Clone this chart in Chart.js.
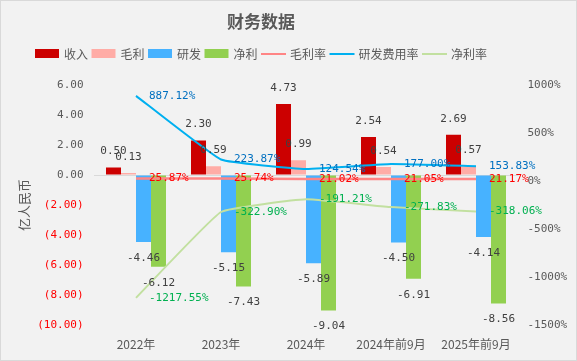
<!DOCTYPE html>
<html lang="zh">
<head>
<meta charset="UTF-8">
<title>财务数据</title>
<script src="https://cdn.jsdelivr.net/npm/chart.js"></script>
<style>
  html, body { margin: 0; padding: 0; background: #f2f2f2; }
  #wrap { width: 577px; height: 361px; }
</style>
</head>
<body>
<div id="wrap"><canvas id="finChart" width="577" height="361"></canvas></div>
<script>
// data
var categories = ['2022年', '2023年', '2024年', '2024年前9月', '2025年前9月'];
var revenue = [0.50, 2.30, 4.73, 2.54, 2.69];
var grossProfit = [0.13, 0.59, 0.99, 0.54, 0.57];
var rdExpense = [-4.46, -5.15, -5.89, -4.50, -4.14];
var netProfit = [-6.12, -7.43, -9.04, -6.91, -8.56];
var grossMargin = [25.87, 25.74, 21.02, 21.05, 21.17];
var rdRatio = [887.12, 223.87, 124.54, 177.00, 153.83];
var netMargin = [-1217.55, -322.90, -191.21, -271.83, -318.06];

var numFont = '11px "DejaVu Sans Mono", monospace';
var cjkFont = '"Noto Sans CJK SC", sans-serif';
var grey = '#595959';

// background + frame
var bgPlugin = {
    id: 'bg',
    beforeDraw: function (chart) {
        var c = chart.ctx;
        c.save();
        c.fillStyle = '#f2f2f2';
        c.fillRect(0, 0, chart.width, chart.height);
        c.strokeStyle = '#d9d9d9';
        c.lineWidth = 1;
        c.strokeRect(0.5, 0.5, chart.width - 1, chart.height - 1);
        c.restore();
    }
};

// value labels on bars and line points
var labelPlugin = {
    id: 'valueLabels',
    afterDatasetsDraw: function (chart) {
        var c = chart.ctx;
        c.save();
        c.font = numFont;
        c.textBaseline = 'middle';
        chart.data.datasets.forEach(function (ds, i) {
            var meta = chart.getDatasetMeta(i);
            meta.data.forEach(function (el, j) {
                var v = ds.data[j];
                if (ds.type === 'bar') {
                    c.fillStyle = '#404040';
                    c.textAlign = 'center';
                    var y = v >= 0 ? el.y - 16 : el.y + 16;
                    c.fillText(v.toFixed(2), el.x, y);
                } else {
                    c.fillStyle = ds.labelColor;
                    c.textAlign = 'left';
                    c.fillText(v.toFixed(2) + '%', el.x + 13, el.y);
                }
            });
        });
        c.restore();
    }
};

// title and legend, centred a little left of the canvas middle like the original
var headPlugin = {
    id: 'head',
    afterDraw: function (chart) {
        var c = chart.ctx;
        var cx = 261;
        c.save();
        c.fillStyle = grey;
        c.textAlign = 'center';
        c.textBaseline = 'middle';
        c.font = 'bold 17px ' + cjkFont;
        c.fillText('财务数据', cx, 22);

        c.font = '12px ' + cjkFont;
        var items = chart.data.datasets.map(function (ds) {
            return { text: ds.label, color: ds.type === 'bar' ? ds.backgroundColor : ds.borderColor, bar: ds.type === 'bar' };
        });
        var total = 0;
        items.forEach(function (it, k) {
            it.w = c.measureText(it.text).width;
            total += 25 + 4 + it.w + (k ? 3.5 : 0);
        });
        var x = cx - total / 2;
        var y = 54;
        c.textAlign = 'left';
        items.forEach(function (it) {
            if (it.bar) {
                c.fillStyle = it.color;
                c.fillRect(x, y - 5, 24, 9);
            } else {
                c.strokeStyle = it.color;
                c.lineWidth = 2;
                c.beginPath();
                c.moveTo(x, y);
                c.lineTo(x + 25, y);
                c.stroke();
            }
            c.fillStyle = grey;
            c.fillText(it.text, x + 29, y);
            x += 29 + it.w + 3.5;
        });
        c.restore();
    }
};

function barSet(label, data, color) {
    return {
        type: 'bar', label: label, data: data, backgroundColor: color,
        yAxisID: 'y', order: 2,
        categoryPercentage: 60 / 85, barPercentage: 1
    };
}

function lineSet(label, data, color, labelColor, width) {
    return {
        type: 'line', label: label, data: data, borderColor: color, backgroundColor: color,
        labelColor: labelColor, borderWidth: width, pointRadius: 0, tension: 0.1,
        yAxisID: 'y1', order: 1
    };
}

var ctx = document.getElementById('finChart').getContext('2d');
var chart = new Chart(ctx, {
    data: {
        labels: categories,
        datasets: [
            barSet('收入', revenue, '#CC0000'),
            barSet('毛利', grossProfit, '#FFACA6'),
            barSet('研发', rdExpense, '#47B2FF'),
            barSet('净利', netProfit, '#92D050'),
            lineSet('毛利率', grossMargin, '#FF8585', '#FF0000', 2.5),
            lineSet('研发费用率', rdRatio, '#00B0F0', '#0070C0', 2),
            lineSet('净利率', netMargin, '#C2E0A0', '#00B050', 2)
        ]
    },
    options: {
        responsive: false,
        devicePixelRatio: 1,
        animation: false,
        layout: { padding: { top: 85, left: 0, right: 0, bottom: 0 } },
        plugins: {
            legend: { display: false },
            title: { display: false },
            tooltip: { enabled: false }
        },
        scales: {
            x: {
                offset: true,
                grid: { display: false },
                border: { display: false },
                ticks: { color: grey, font: { family: cjkFont, size: 12 }, padding: 4, maxRotation: 0 },
                afterFit: function (s) { s.height = 36; }
            },
            y: {
                position: 'left',
                min: -10, max: 6,
                ticks: {
                    stepSize: 2, padding: 10,
                    font: { family: '"DejaVu Sans Mono", monospace', size: 11 },
                    color: function (c) { return c.tick && c.tick.value < 0 ? '#FF0000' : grey; },
                    callback: function (v) { return v < 0 ? '(' + Math.abs(v).toFixed(2) + ')' : v.toFixed(2); }
                },
                grid: {
                    drawTicks: false,
                    color: function (c) { return c.tick && c.tick.value === 0 ? '#d9d9d9' : 'rgba(0,0,0,0)'; }
                },
                border: { display: false },
                title: {
                    display: true, text: '亿人民币', color: grey,
                    font: { family: cjkFont, size: 13 }, padding: { top: 16, bottom: 0 }
                },
                afterFit: function (s) { s.width = 93.5; }
            },
            y1: {
                position: 'right',
                min: -1500, max: 1000,
                ticks: {
                    stepSize: 500, padding: 9, color: grey,
                    font: { family: '"DejaVu Sans Mono", monospace', size: 11 },
                    callback: function (v) { return v + '%'; }
                },
                grid: { display: false, drawTicks: false },
                border: { display: false },
                afterFit: function (s) { s.width = 58.5; }
            }
        }
    },
    plugins: [bgPlugin, labelPlugin, headPlugin]
});
</script>
</body>
</html>
